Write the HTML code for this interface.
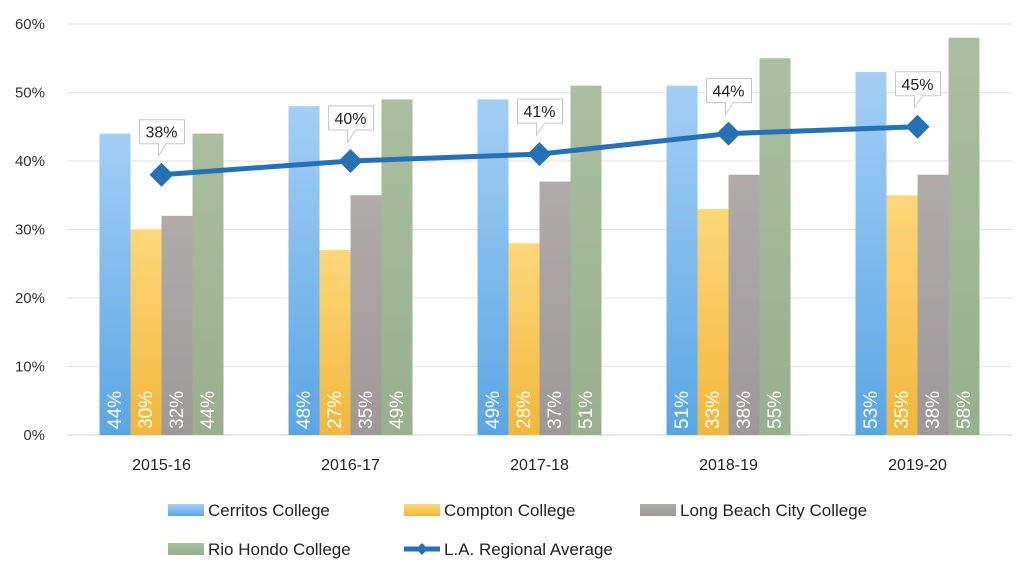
<!DOCTYPE html>
<html><head><meta charset="utf-8"><style>
body{margin:0;background:#fff;}
svg{display:block;font-family:"Liberation Sans",sans-serif;}
</style></head><body>
<svg id="chart" width="1032" height="580">
<defs>
<linearGradient id="gC" x1="0" y1="0" x2="0" y2="1"><stop offset="0" stop-color="#a3cff5"/><stop offset="1" stop-color="#5aa6e4"/></linearGradient>
<linearGradient id="gP" x1="0" y1="0" x2="0" y2="1"><stop offset="0" stop-color="#fdd77a"/><stop offset="1" stop-color="#f2b73c"/></linearGradient>
<linearGradient id="gL" x1="0" y1="0" x2="0" y2="1"><stop offset="0" stop-color="#b0abab"/><stop offset="1" stop-color="#9e9999"/></linearGradient>
<linearGradient id="gR" x1="0" y1="0" x2="0" y2="1"><stop offset="0" stop-color="#a9bf9f"/><stop offset="1" stop-color="#98b08e"/></linearGradient>
</defs>
</svg>
<script>
const categories=["2015-16","2016-17","2017-18","2018-19","2019-20"];
const cerritos=[44,48,49,51,53];
const compton=[30,27,28,33,35];
const longBeach=[32,35,37,38,38];
const rioHondo=[44,49,51,55,58];
const regional=[38,40,41,44,45];
const yTicks=[0,10,20,30,40,50,60];
const seriesNames=["Cerritos College","Compton College","Long Beach City College","Rio Hondo College"];

const svg=document.getElementById('chart');
const NS='http://www.w3.org/2000/svg';
function mk(t,a,p){const e=document.createElementNS(NS,t);for(const k in a)e.setAttribute(k,a[k]);(p||svg).appendChild(e);return e;}
const x0=67,x1=1012,yTop=24,yBot=435;
const gw=(x1-x0)/categories.length;
function y(v){return yBot-(v/60)*(yBot-yTop);}
function gx(i){return x0+gw*(i+0.5);}
const bw=31;

yTicks.forEach(t=>{
  const l=mk('line',{x1:x0,x2:x1,y1:y(t),y2:y(t),stroke:t===0?'#cfcfcf':'#e2e2e2','stroke-width':1});
  
  
  const tx=mk('text',{x:45,y:y(t)+5,'text-anchor':'end','font-size':15,fill:'#333'});
  tx.textContent=t+'%';
  
  
});
categories.forEach((c,i)=>{
  const tx=mk('text',{x:gx(i),y:470,'text-anchor':'middle','font-size':16,fill:'#222'});
  tx.textContent=c;
  
  
});
const series=[cerritos,compton,longBeach,rioHondo];
const fills=['url(#gC)','url(#gP)','url(#gL)','url(#gR)'];
series.forEach((s,k)=>{
  s.forEach((v,i)=>{
    const bx=gx(i)-2*bw+k*bw;
    const r=mk('rect',{x:bx,y:y(v),width:bw,height:yBot-y(v),fill:fills[k]});
    
    
    const cx=bx+bw/2+6,cy=yBot-6;
    const t=mk('text',{x:cx,y:cy,'font-size':19,fill:'#fff',transform:`rotate(-90 ${cx} ${cy})`});
    t.textContent=v+'%';
    
    
  });
});
// line
const pts=regional.map((v,i)=>[gx(i),y(v)]);
const pl=mk('polyline',{points:pts.map(p=>p.join(',')).join(' '),fill:'none',stroke:'#2670b5','stroke-width':5});


regional.forEach((v,i)=>{
  const [px,py]=pts[i];
  const d=mk('polygon',{points:`${px},${py-12} ${px+12},${py} ${px},${py+12} ${px-12},${py}`,fill:'#2670b5'});
  
  
  const bx=px-22,by=py-55;
  const b=mk('path',{d:`M${bx},${by} h45 v24 h-18 l-8,12 l0,-12 h-19 z`,fill:'#fff',stroke:'#c8c8c8','stroke-width':1});
  
  
  const t=mk('text',{x:px,y:by+18,'text-anchor':'middle','font-size':16,fill:'#222'});
  t.textContent=v+'%';
  
  
});
// legend
const leg=[[168,510,0],[404,510,1],[640,510,2],[168,549,3]];
leg.forEach(([lx,ly,k])=>{
  const r=mk('rect',{x:lx,y:ly-6,width:36,height:12,fill:fills[k]});
  
  
  const t=mk('text',{x:lx+40,y:ly+6,'font-size':17,fill:'#222'});
  t.textContent=seriesNames[k];
  
  
});
const ll=mk('line',{x1:404,x2:440,y1:549,y2:549,stroke:'#2670b5','stroke-width':5});


const ld=mk('polygon',{points:'422,543 428,549 422,555 416,549',fill:'#2670b5'});


const lt=mk('text',{x:444,y:555,'font-size':17,fill:'#222'});
lt.textContent='L.A. Regional Average';


</script>
</body></html>
